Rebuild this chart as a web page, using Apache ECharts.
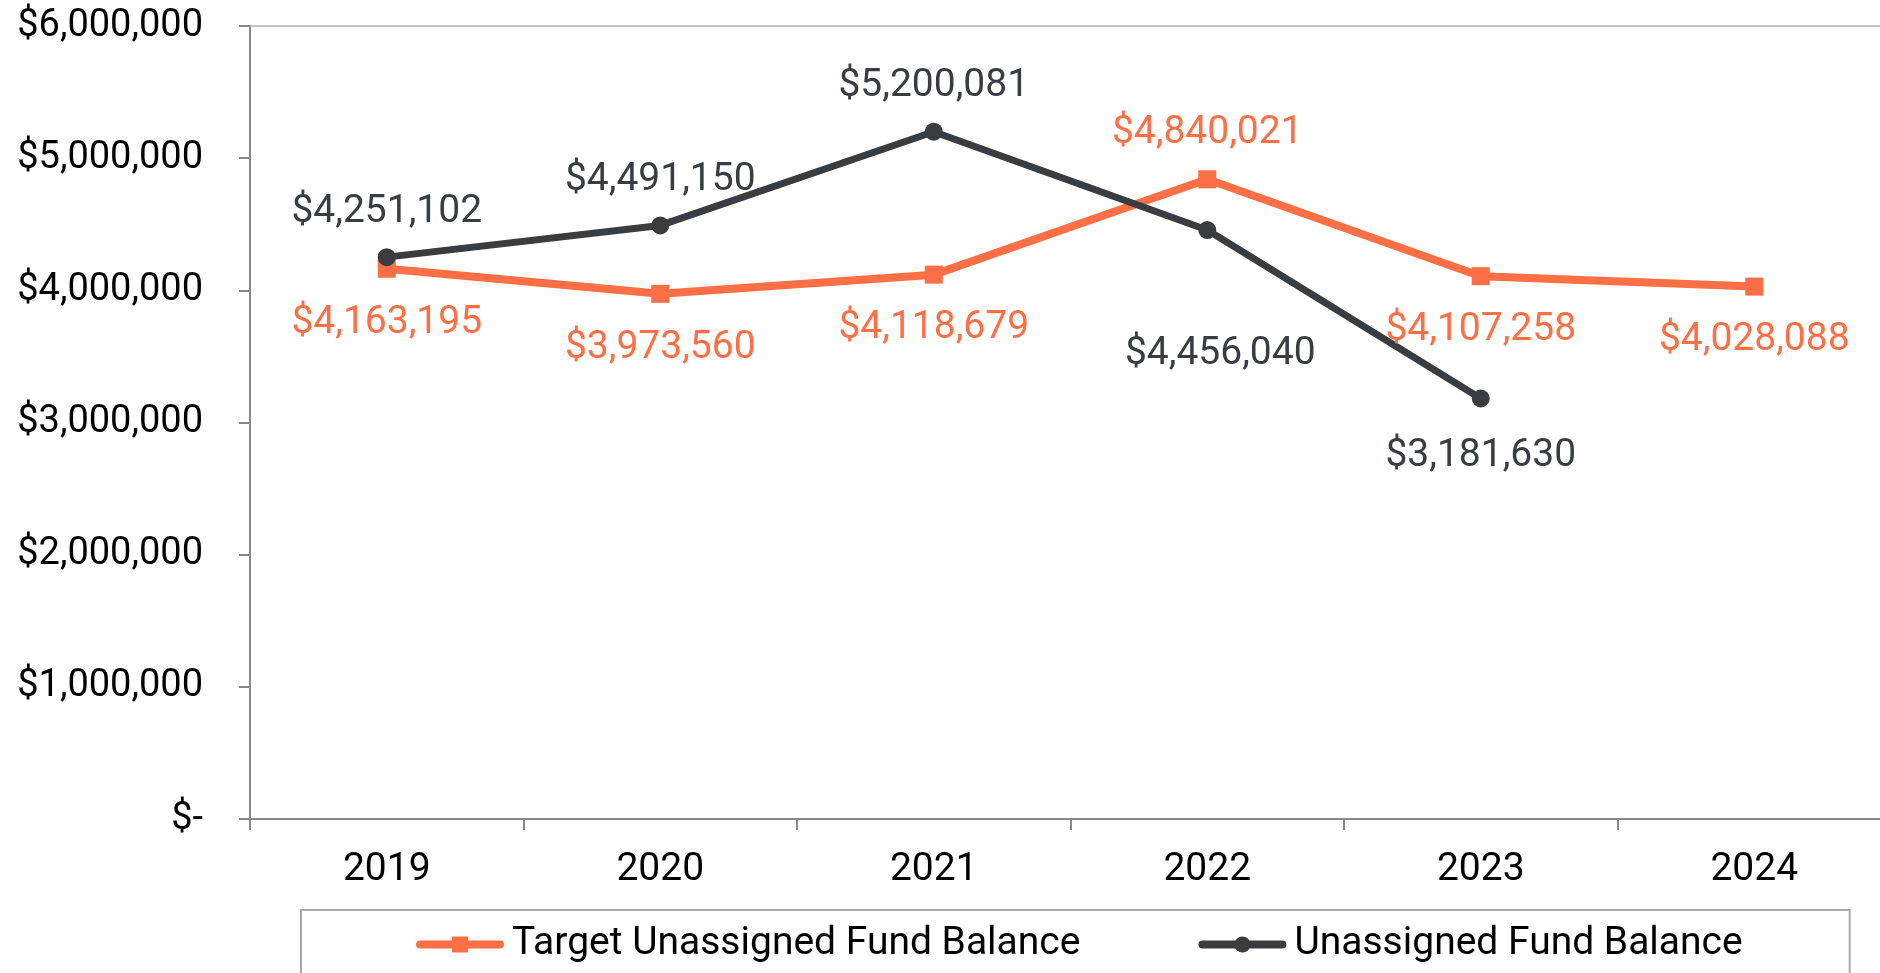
<!DOCTYPE html>
<html>
<head>
<meta charset="utf-8">
<script src="https://cdn.jsdelivr.net/npm/echarts@6/dist/echarts.min.js"></script>
<style>
  html, body { margin: 0; padding: 0; background: #fff; }
  #chart1 { width: 1880px; height: 973px; }
</style>
</head>
<body>
<div id="chart1"></div>
<script>
// chart data
const years = ['2019', '2020', '2021', '2022', '2023', '2024'];
const targetBalance = [4163195, 3973560, 4118679, 4840021, 4107258, 4028088];
const unassignedBalance = [4251102, 4491150, 5200081, 4456040, 3181630, null];
const yTicks = [0, 1000000, 2000000, 3000000, 4000000, 5000000, 6000000];

const orange = '#ff6f45';
const dark = '#393d41';
const fontFamily = 'Roboto';

function money(v) {
    if (v === 0) return '$-';
    return '$' + v.toLocaleString('en-US');
}

let dom1 = document.getElementById('chart1');
let Chart1 = echarts.init(dom1);

let option1 = {
    animation: false,
    textStyle: { fontFamily: fontFamily },
    grid: {
        left: 250,
        top: 26,
        width: 1641,
        height: 793,
        outerBoundsMode: 'none'
    },
    legend: {
        left: 301,
        top: 910,
        padding: [15, 107, 40, 115],
        borderColor: '#aaaaaa',
        borderWidth: 2,
        itemWidth: 80,
        itemHeight: 20,
        itemGap: 118,
        lineStyle: { width: 8, cap: 'round' },
        textStyle: {
            fontSize: 39,
            color: '#000',
            fontFamily: fontFamily,
            padding: [0, 0, 0, 7]
        },
        data: ['Target Unassigned Fund Balance', 'Unassigned Fund Balance']
    },
    xAxis: [{
        type: 'category',
        data: years,
        boundaryGap: true,
        axisLine: { lineStyle: { color: '#898989', width: 2 } },
        axisTick: { show: true, length: 11, lineStyle: { color: '#898989', width: 2 } },
        axisLabel: { fontSize: 39, color: '#000', margin: 32, fontFamily: fontFamily }
    }, {
        type: 'category',
        position: 'top',
        data: years,
        axisLine: { show: true, lineStyle: { color: '#b0b0b0', width: 1.5 } },
        axisTick: { show: false },
        axisLabel: { show: false }
    }],
    yAxis: {
        type: 'value',
        min: yTicks[0],
        max: yTicks[yTicks.length - 1],
        interval: yTicks[1] - yTicks[0],
        axisLine: { show: true, lineStyle: { color: '#898989', width: 2 } },
        axisTick: { show: true, length: 11, lineStyle: { color: '#898989', width: 2 } },
        splitLine: { show: false },
        axisLabel: {
            fontSize: 38,
            color: '#000',
            margin: 47,
            fontFamily: fontFamily,
            formatter: money
        }
    },
    series: [
        {
            name: 'Target Unassigned Fund Balance',
            type: 'line',
            color: orange,
            symbol: 'rect',
            symbolSize: 18,
            lineStyle: { width: 8, color: orange, cap: 'round' },
            itemStyle: { color: orange },
            label: {
                show: true,
                position: 'bottom',
                distance: 23,
                fontSize: 39,
                lineHeight: 44,
                color: orange,
                fontFamily: fontFamily,
                formatter: p => money(p.value)
            },
            data: targetBalance.map((v, i) => i === 3
                ? { value: v, label: { position: 'top', distance: 15 } }
                : v)
        },
        {
            name: 'Unassigned Fund Balance',
            type: 'line',
            color: dark,
            symbol: 'circle',
            symbolSize: 18,
            lineStyle: { width: 7, color: dark, cap: 'round' },
            itemStyle: { color: dark },
            label: {
                show: true,
                position: 'top',
                distance: 14,
                fontSize: 39,
                lineHeight: 44,
                color: dark,
                fontFamily: fontFamily,
                formatter: p => money(p.value)
            },
            data: unassignedBalance.map((v, i) => {
                if (i === 3) return { value: v, label: { position: 'bottom', distance: 93, offset: [13, 0] } };
                if (i === 4) return { value: v, label: { position: 'bottom', distance: 27 } };
                return v;
            })
        }
    ]
};

Chart1.setOption(option1);
</script>
</body>
</html>
